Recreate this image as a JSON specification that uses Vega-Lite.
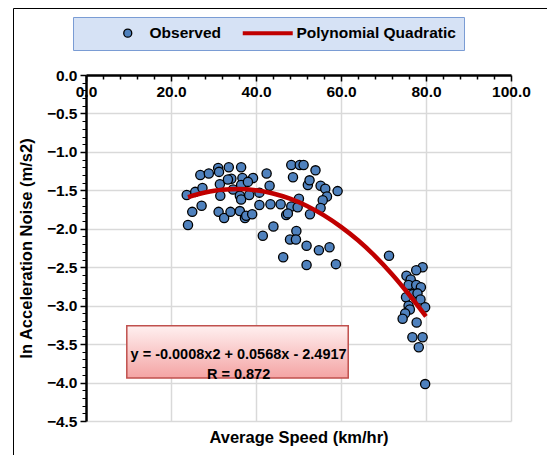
{
  "$schema": "https://vega.github.io/schema/vega-lite/v6.json",
  "width": 425,
  "height": 346,
  "autosize": {"type": "none"},
  "padding": {"left": 86, "top": 75, "right": 36, "bottom": 34},
  "background": "white",
  "config": {"font": "Liberation Sans", "view": {"stroke": null}},
  "datasets": {
    "observed": [
      {"speed": 24.0, "noise": -1.95}, {"speed": 23.7, "noise": -1.56}, {"speed": 25.0, "noise": -1.78},
      {"speed": 25.7, "noise": -1.52}, {"speed": 27.2, "noise": -1.70}, {"speed": 27.4, "noise": -1.47},
      {"speed": 26.9, "noise": -1.30}, {"speed": 28.9, "noise": -1.28}, {"speed": 31.1, "noise": -1.21},
      {"speed": 31.3, "noise": -1.26}, {"speed": 31.5, "noise": -1.42}, {"speed": 31.6, "noise": -1.57},
      {"speed": 31.2, "noise": -1.78}, {"speed": 32.5, "noise": -1.86}, {"speed": 33.6, "noise": -1.20},
      {"speed": 34.2, "noise": -1.35}, {"speed": 34.0, "noise": -1.78}, {"speed": 34.6, "noise": -1.49},
      {"speed": 36.2, "noise": -1.77}, {"speed": 36.5, "noise": -1.20}, {"speed": 36.8, "noise": -1.34},
      {"speed": 36.5, "noise": -1.43}, {"speed": 36.2, "noise": -1.57}, {"speed": 36.5, "noise": -1.62},
      {"speed": 37.4, "noise": -1.86}, {"speed": 37.7, "noise": -1.83}, {"speed": 38.4, "noise": -1.56},
      {"speed": 39.3, "noise": -1.34}, {"speed": 39.1, "noise": -1.81}, {"speed": 40.8, "noise": -1.69},
      {"speed": 40.8, "noise": -1.53}, {"speed": 42.5, "noise": -1.28}, {"speed": 43.2, "noise": -1.44},
      {"speed": 43.4, "noise": -1.68}, {"speed": 41.6, "noise": -2.09}, {"speed": 44.1, "noise": -1.97},
      {"speed": 45.8, "noise": -1.68}, {"speed": 47.1, "noise": -1.82}, {"speed": 46.4, "noise": -2.37},
      {"speed": 48.3, "noise": -1.17}, {"speed": 48.7, "noise": -1.33}, {"speed": 50.3, "noise": -1.17},
      {"speed": 51.2, "noise": -1.17}, {"speed": 50.1, "noise": -1.61}, {"speed": 48.0, "noise": -2.14},
      {"speed": 49.5, "noise": -2.03}, {"speed": 49.4, "noise": -2.14}, {"speed": 51.9, "noise": -2.22},
      {"speed": 51.9, "noise": -2.47}, {"speed": 52.2, "noise": -1.43}, {"speed": 52.6, "noise": -1.37},
      {"speed": 54.0, "noise": -1.24}, {"speed": 55.2, "noise": -1.44}, {"speed": 56.3, "noise": -1.48},
      {"speed": 59.2, "noise": -1.51}, {"speed": 56.7, "noise": -1.58}, {"speed": 55.7, "noise": -1.63},
      {"speed": 55.2, "noise": -1.73}, {"speed": 52.7, "noise": -1.81}, {"speed": 48.3, "noise": -1.71},
      {"speed": 49.8, "noise": -1.72}, {"speed": 47.5, "noise": -1.80}, {"speed": 54.8, "noise": -2.28},
      {"speed": 57.3, "noise": -2.24}, {"speed": 58.8, "noise": -2.46}, {"speed": 33.4, "noise": -1.36},
      {"speed": 38.1, "noise": -1.39}, {"speed": 71.3, "noise": -2.35}, {"speed": 79.2, "noise": -2.50},
      {"speed": 77.7, "noise": -2.54}, {"speed": 75.4, "noise": -2.61}, {"speed": 76.4, "noise": -2.66},
      {"speed": 75.9, "noise": -2.73}, {"speed": 77.7, "noise": -2.73}, {"speed": 78.8, "noise": -2.76},
      {"speed": 75.3, "noise": -2.89}, {"speed": 76.9, "noise": -2.85}, {"speed": 78.0, "noise": -2.84},
      {"speed": 78.7, "noise": -2.92}, {"speed": 75.9, "noise": -3.00}, {"speed": 76.2, "noise": -3.05},
      {"speed": 79.8, "noise": -3.02}, {"speed": 75.1, "noise": -3.10}, {"speed": 74.5, "noise": -3.17},
      {"speed": 77.8, "noise": -3.22}, {"speed": 76.8, "noise": -3.41}, {"speed": 79.2, "noise": -3.41},
      {"speed": 78.3, "noise": -3.54}, {"speed": 79.8, "noise": -4.02}
    ],
    "fit": [
      {"speed": 24, "noise": -1.589}, {"speed": 28, "noise": -1.529}, {"speed": 32, "noise": -1.493},
      {"speed": 36, "noise": -1.484}, {"speed": 40, "noise": -1.500}, {"speed": 44, "noise": -1.541},
      {"speed": 48, "noise": -1.609}, {"speed": 52, "noise": -1.703}, {"speed": 56, "noise": -1.825},
      {"speed": 60, "noise": -1.975}, {"speed": 64, "noise": -2.150}, {"speed": 68, "noise": -2.355},
      {"speed": 72, "noise": -2.590}, {"speed": 76, "noise": -2.855}, {"speed": 80, "noise": -3.140}
    ]
  },
  "resolve": {
    "axis": {"x": "independent", "y": "independent"},
    "legend": {"color": "independent", "shape": "independent", "stroke": "independent", "strokeWidth": "independent"}
  },
  "layer": [
    {
      "data": {"name": "observed"},
      "mark": {"type": "point", "filled": true, "size": 85, "opacity": 1},
      "encoding": {
        "x": {
          "field": "speed", "type": "quantitative",
          "scale": {"domain": [0, 100], "nice": false, "zero": false},
          "axis": {
            "orient": "bottom", "offset": -346, "values": [0, 20, 40, 60, 80, 100], "format": ".1f",
            "labelFontSize": 15.5, "labelFontWeight": "bold", "labelColor": "black", "labelPadding": 3,
            "labelFlush": false, "tickSize": 6, "tickColor": "black", "tickWidth": 1.5,
            "domainColor": "black", "domainWidth": 2.5, "grid": false, "title": null
          }
        },
        "y": {
          "field": "noise", "type": "quantitative",
          "scale": {"domain": [-4.5, 0], "nice": false, "zero": false},
          "axis": {
            "orient": "left", "values": [-4.5, -4, -3.5, -3, -2.5, -2, -1.5, -1, -0.5, 0], "format": ".1f",
            "labelFontSize": 15.5, "labelFontWeight": "bold", "labelColor": "black", "labelPadding": 3,
            "tickSize": 6, "tickColor": "black", "tickWidth": 1.5,
            "domainColor": "black", "domainWidth": 2.5,
            "grid": true, "gridColor": "#d9d9d9", "gridWidth": 1.5,
            "title": "ln Acceleration Noise (m/s2)", "titleFontSize": 16.5, "titleFontWeight": "bold",
            "titleColor": "black", "titlePadding": 12
          }
        },
        "color": {
          "datum": "Observed",
          "scale": {"domain": ["Observed", "Polynomial Quadratic"], "range": ["#4F81BD", "#C00000"]},
          "legend": {
            "orient": "none", "legendX": -13, "legendY": -58, "direction": "horizontal", "title": null,
            "symbolSize": 64, "labelFontSize": 15.5, "labelFontWeight": "bold", "labelColor": "black",
            "padding": 8, "symbolOffset": 39, "labelOffset": 14, "columnPadding": 6,
            "fillColor": "#d6e2f5",
            "strokeColor": "#7a9cd4"
          }
        },
        "shape": {
          "datum": "Observed",
          "scale": {"domain": ["Observed", "Polynomial Quadratic"], "range": ["circle", "M-8,0H4.5"]}
        },
        "stroke": {
          "datum": "Observed",
          "scale": {"domain": ["Observed", "Polynomial Quadratic"], "range": ["#000000", "#C00000"]}
        },
        "strokeWidth": {
          "datum": "Observed",
          "scale": {"type": "point", "padding": 0, "domain": ["Observed", "Polynomial Quadratic"], "range": [1.3, 4]}
        }
      }
    },
    {
      "data": {"name": "fit"},
      "mark": {"type": "line", "strokeWidth": 4.5, "interpolate": "monotone"},
      "encoding": {
        "x": {
          "field": "speed", "type": "quantitative",
          "scale": {"domain": [0, 100], "nice": false, "zero": false},
          "axis": {
            "orient": "bottom", "values": [20, 40, 60, 80, 100], "grid": true, "gridColor": "#d9d9d9",
            "gridWidth": 1.5, "domain": false, "ticks": false, "labels": false,
            "title": "Average Speed (km/hr)", "titleFontSize": 16.5, "titleFontWeight": "bold",
            "titleColor": "black", "titlePadding": 8
          }
        },
        "y": {
          "field": "noise", "type": "quantitative",
          "scale": {"domain": [-4.5, 0], "nice": false, "zero": false},
          "axis": null
        },
        "color": {"datum": "Polynomial Quadratic", "legend": null},
        "strokeOpacity": {
          "datum": "frame",
          "scale": {"type": "point", "padding": 0, "range": [1, 1]},
          "legend": {
            "orient": "none", "legendX": -71, "legendY": -65, "title": null, "labelExpr": "''",
            "symbolSize": 0, "symbolStrokeWidth": 0, "symbolFillColor": "transparent", "symbolStrokeColor": "transparent",
            "labelOffset": 0, "padding": 260, "strokeColor": "black"
          }
        }
      }
    },
    {
      "data": {"values": [{}]},
      "mark": {
        "type": "rect", "stroke": "#c0504d", "strokeWidth": 1.5,
        "fill": {"gradient": "linear", "x1": 0, "y1": 0, "x2": 0, "y2": 1,
          "stops": [{"offset": 0, "color": "#fff0f0"}, {"offset": 1, "color": "#f4a4a4"}]}
      },
      "encoding": {
        "x": {
          "datum": 9.6, "type": "quantitative",
          "scale": {"domain": [0, 100], "nice": false, "zero": false},
          "axis": {
            "orient": "bottom", "offset": -346,
            "values": [4, 8, 12, 16, 24, 28, 32, 36, 44, 48, 52, 56, 64, 68, 72, 76, 84, 88, 92, 96],
            "domain": false, "labels": false, "grid": false, "tickSize": 4, "tickColor": "black",
            "tickWidth": 1.5, "title": null
          }
        },
        "x2": {"datum": 61.7},
        "y": {
          "datum": -3.26, "type": "quantitative",
          "scale": {"domain": [-4.5, 0], "nice": false, "zero": false},
          "axis": {
            "orient": "left",
            "values": [-4.4, -4.3, -4.2, -4.1, -3.9, -3.8, -3.7, -3.6, -3.4, -3.3, -3.2, -3.1, -2.9, -2.8, -2.7, -2.6, -2.4, -2.3, -2.2, -2.1, -1.9, -1.8, -1.7, -1.6, -1.4, -1.3, -1.2, -1.1, -0.9, -0.8, -0.7, -0.6, -0.4, -0.3, -0.2, -0.1],
            "domain": false, "labels": false, "grid": false, "tickSize": 4, "tickColor": "black",
            "tickWidth": 1, "title": null
          }
        },
        "y2": {"datum": -3.94},
        "opacity": {
          "datum": "frame",
          "scale": {"type": "point", "padding": 0, "range": [1, 1]},
          "legend": {
            "orient": "none", "legendX": -73, "legendY": -67, "title": null, "labelExpr": "''",
            "symbolSize": 0, "symbolStrokeWidth": 0, "symbolFillColor": "transparent", "symbolStrokeColor": "transparent",
            "labelOffset": 0, "padding": 262, "strokeColor": "black"
          }
        }
      }
    },
    {
      "data": {"values": [{}]},
      "mark": {"type": "text", "fontSize": 14.5, "fontWeight": "bold", "lineHeight": 20, "baseline": "middle", "align": "center", "color": "black"},
      "encoding": {
        "x": {"datum": 35.9, "type": "quantitative", "scale": {"domain": [0, 100], "nice": false, "zero": false}, "axis": null},
        "y": {"datum": -3.64, "type": "quantitative", "scale": {"domain": [-4.5, 0], "nice": false, "zero": false}, "axis": null},
        "text": {"value": ["y = -0.0008x2 + 0.0568x - 2.4917", "R = 0.872"]},
        "fillOpacity": {
          "datum": "frame",
          "scale": {"type": "point", "padding": 0, "range": [1, 1]},
          "legend": {
            "orient": "none", "legendX": -72, "legendY": -66, "title": null, "labelExpr": "''",
            "symbolSize": 0, "symbolStrokeWidth": 0, "symbolFillColor": "transparent", "symbolStrokeColor": "transparent",
            "labelOffset": 0, "padding": 261, "strokeColor": "black"
          }
        }
      }
    }
  ]
}
